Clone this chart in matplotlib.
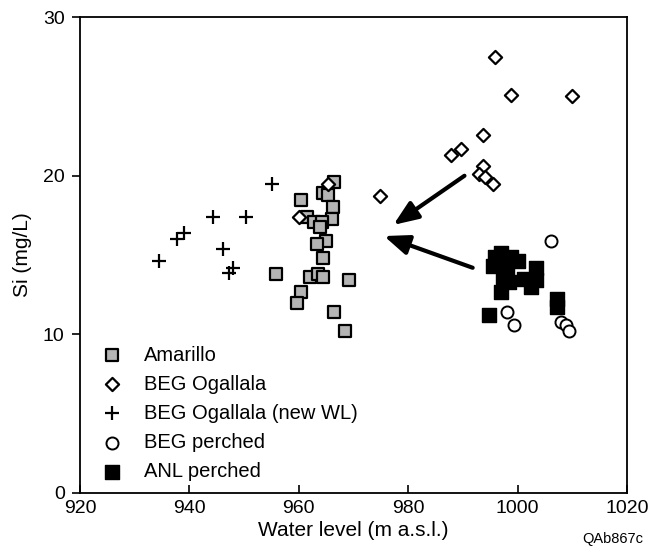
import matplotlib.pyplot as plt

plt.rcParams['font.family'] = ['Liberation Sans', 'DejaVu Sans']

amarillo_x = [966.5, 960.4, 964.4, 965.3, 966.2, 966.1, 961.5, 962.7, 964.2, 963.9, 964.9,
              963.3, 964.5, 955.8, 962.1, 963.5, 964.5, 969.1, 960.4, 959.7, 966.4, 968.5]
amarillo_y = [19.6, 18.5, 18.9, 18.8, 18.0, 17.3, 17.4, 17.1, 17.1, 16.8, 15.9,
              15.7, 14.8, 13.8, 13.6, 13.8, 13.6, 13.4, 12.7, 12.0, 11.4, 10.2]

ogallala_x = [965.3, 960.1, 974.8, 995.8, 998.8, 1009.9, 993.6, 987.9, 989.7, 993.6, 992.9, 994.1, 995.5]
ogallala_y = [19.5, 17.4, 18.7, 27.5, 25.1, 25.0, 22.6, 21.3, 21.7, 20.6, 20.1, 19.9, 19.5]

newwl_x = [955.1, 944.4, 950.4, 939.0, 937.8, 946.2, 934.5, 948.0, 947.3]
newwl_y = [19.5, 17.4, 17.4, 16.4, 16.0, 15.4, 14.6, 14.2, 13.9]

perched_x = [1006.1, 998.1, 999.4, 1007.9, 1008.8, 1009.4]
perched_y = [15.9, 11.4, 10.6, 10.8, 10.6, 10.2]

anl_x = [995.8, 997.0, 998.8, 1000.0, 995.5, 997.0, 998.0, 997.3, 998.5, 997.0,
         1001.2, 1003.3, 1003.3, 1002.4, 994.8, 1007.3, 1007.3]
anl_y = [14.9, 15.1, 14.9, 14.6, 14.3, 14.4, 14.0, 13.6, 13.3, 12.7,
         13.5, 14.2, 13.4, 13.0, 11.2, 11.7, 12.2]

# arrows: (tail x, tail y, head x, head y)
arrows = [(990.3, 20.0, 977.3, 16.9), (991.8, 14.2, 975.6, 16.2)]

fig = plt.figure(figsize=(6.53, 5.53), dpi=100)
ax = fig.add_axes([0.1225, 0.1085, 0.8375, 0.8605])

ax.scatter(amarillo_x, amarillo_y, marker='s', s=80, facecolor='#b4b4b4',
           edgecolor='black', linewidths=1.6, label='Amarillo', zorder=3)
ax.scatter(ogallala_x, ogallala_y, marker='D', s=45, facecolor='white',
           edgecolor='black', linewidths=1.6, label='BEG Ogallala', zorder=3)
ax.scatter(newwl_x, newwl_y, marker='+', s=110, color='black',
           linewidths=1.6, label='BEG Ogallala (new WL)', zorder=3)
ax.scatter(perched_x, perched_y, marker='o', s=75, facecolor='white',
           edgecolor='black', linewidths=1.4, label='BEG perched', zorder=3)
ax.scatter(anl_x, anl_y, marker='s', s=95, color='black', label='ANL perched', zorder=3)

for x0, y0, x1, y1 in arrows:
    ax.annotate('', xy=(x1, y1), xytext=(x0, y0),
                arrowprops=dict(arrowstyle='-|>,head_length=1.5,head_width=0.6',
                                lw=3, color='black', shrinkA=0, shrinkB=0))

ax.set_xlim(920, 1020)
ax.set_ylim(0, 30)
ax.set_xticks([920, 940, 960, 980, 1000, 1020])
ax.set_yticks([0, 10, 20, 30])
ax.tick_params(labelsize=14, length=6, width=1.2, pad=5)
ax.tick_params(axis='y', direction='out')
ax.tick_params(axis='x', direction='in')
for sp in ax.spines.values():
    sp.set_linewidth(1.3)
ax.set_xlabel('Water level (m a.s.l.)', fontsize=15, labelpad=3)
ax.set_ylabel('Si (mg/L)', fontsize=15, labelpad=8)

ax.legend(loc='lower left', bbox_to_anchor=(0.0, 0.0), frameon=False, fontsize=14.5,
          labelspacing=0.5, handletextpad=0.6, borderaxespad=0.2, scatterpoints=1)

fig.text(0.985, 0.012, 'QAb867c', fontsize=10.5, ha='right', va='bottom')

fig.savefig('out.png', dpi=100)
